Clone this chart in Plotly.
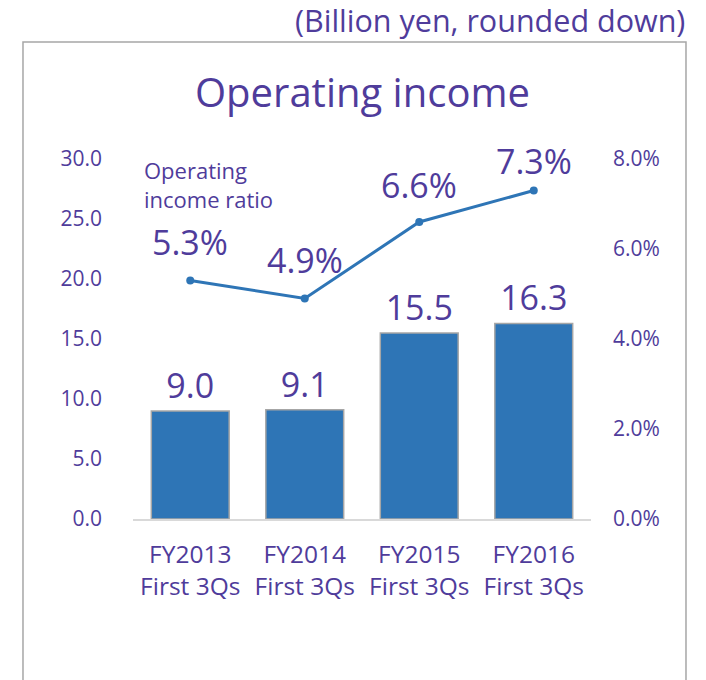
import plotly.graph_objects as go

# data
periods = ["FY2013<br>First 3Qs", "FY2014<br>First 3Qs", "FY2015<br>First 3Qs", "FY2016<br>First 3Qs"]
operating_income = [9.0, 9.1, 15.5, 16.3]  # billion yen
income_ratio = [5.3, 4.9, 6.6, 7.3]  # %
left_ticks = [0, 5, 10, 15, 20, 25, 30]
right_ticks = [0, 2, 4, 6, 8]

PURPLE = "#4F3C9B"
BLUE = "#2E75B6"
FONT = "Open Sans"

fig = go.Figure()
fig.add_trace(
    go.Bar(
        x=periods,
        y=operating_income,
        width=0.68,
        marker={"color": BLUE, "line": {"color": "#A6A6A6", "width": 1.5}},
        text=[f"{v:.1f}" for v in operating_income],
        textposition="outside",
        textfont={"size": 34, "color": PURPLE, "family": FONT},
        cliponaxis=False,
        showlegend=False,
    )
)
fig.add_trace(
    go.Scatter(
        x=periods,
        y=income_ratio,
        yaxis="y2",
        mode="lines+markers",
        line={"color": BLUE, "width": 3},
        marker={"size": 8, "color": BLUE},
        showlegend=False,
    )
)

# ratio labels above the line points
label_shift = [14, 14, 12, 5]
for p, r, s in zip(periods, income_ratio, label_shift):
    fig.add_annotation(
        x=p, y=r, xref="x", yref="y2", yanchor="bottom", yshift=s,
        text=f"{r:.1f}%", showarrow=False,
        font={"size": 34, "color": PURPLE, "family": FONT},
    )

fig.add_annotation(
    x=0.02, y=1.017, xref="paper", yref="paper", xanchor="left", yanchor="top",
    text="Operating<br>income ratio", align="left", showarrow=False,
    font={"size": 22, "color": PURPLE, "family": FONT},
)
fig.add_annotation(
    x=0.5, y=1.188, xref="paper", yref="paper", xanchor="center", yanchor="middle",
    text="Operating income", showarrow=False,
    font={"size": 40, "color": PURPLE, "family": FONT},
)
fig.add_annotation(
    x=1.21, y=1.386, xref="paper", yref="paper", xanchor="right", yanchor="middle",
    text="(Billion yen, rounded down)", showarrow=False,
    font={"size": 30.5, "color": PURPLE, "family": FONT},
)

# outer frame
fig.add_shape(
    type="rect", xref="paper", yref="paper",
    x0=-0.2402, x1=1.2074, y0=-0.48, y1=1.325,
    line={"color": "#A6A6A6", "width": 1.5},
)

fig.update_layout(
    width=706,
    height=680,
    margin={"l": 133, "r": 115, "t": 159, "b": 161},
    plot_bgcolor="white",
    paper_bgcolor="white",
    font={"family": FONT, "color": PURPLE},
    xaxis={
        "showline": True, "linecolor": "#D9D9D9", "linewidth": 2,
        "showgrid": False, "ticks": "", "ticklabelstandoff": 13,
        "tickfont": {"size": 24.5, "color": PURPLE},
    },
    yaxis={
        "range": [0, 30], "tickvals": left_ticks, "tickformat": ".1f",
        "showgrid": False, "zeroline": False, "showline": False,
        "ticklabelstandoff": 30, "tickfont": {"size": 21, "color": PURPLE},
    },
    yaxis2={
        "range": [0, 8], "tickvals": right_ticks,
        "ticktext": [f"{v:.1f}%" for v in right_ticks],
        "overlaying": "y", "side": "right",
        "showgrid": False, "zeroline": False, "showline": False,
        "ticklabelstandoff": 21, "tickfont": {"size": 21, "color": PURPLE},
    },
)

# drop the default page margin so the figure fills the window exactly
fig.write_html(
    "out.html",
    config={"displayModeBar": False},
    post_script="document.body.style.margin = '0';",
)
